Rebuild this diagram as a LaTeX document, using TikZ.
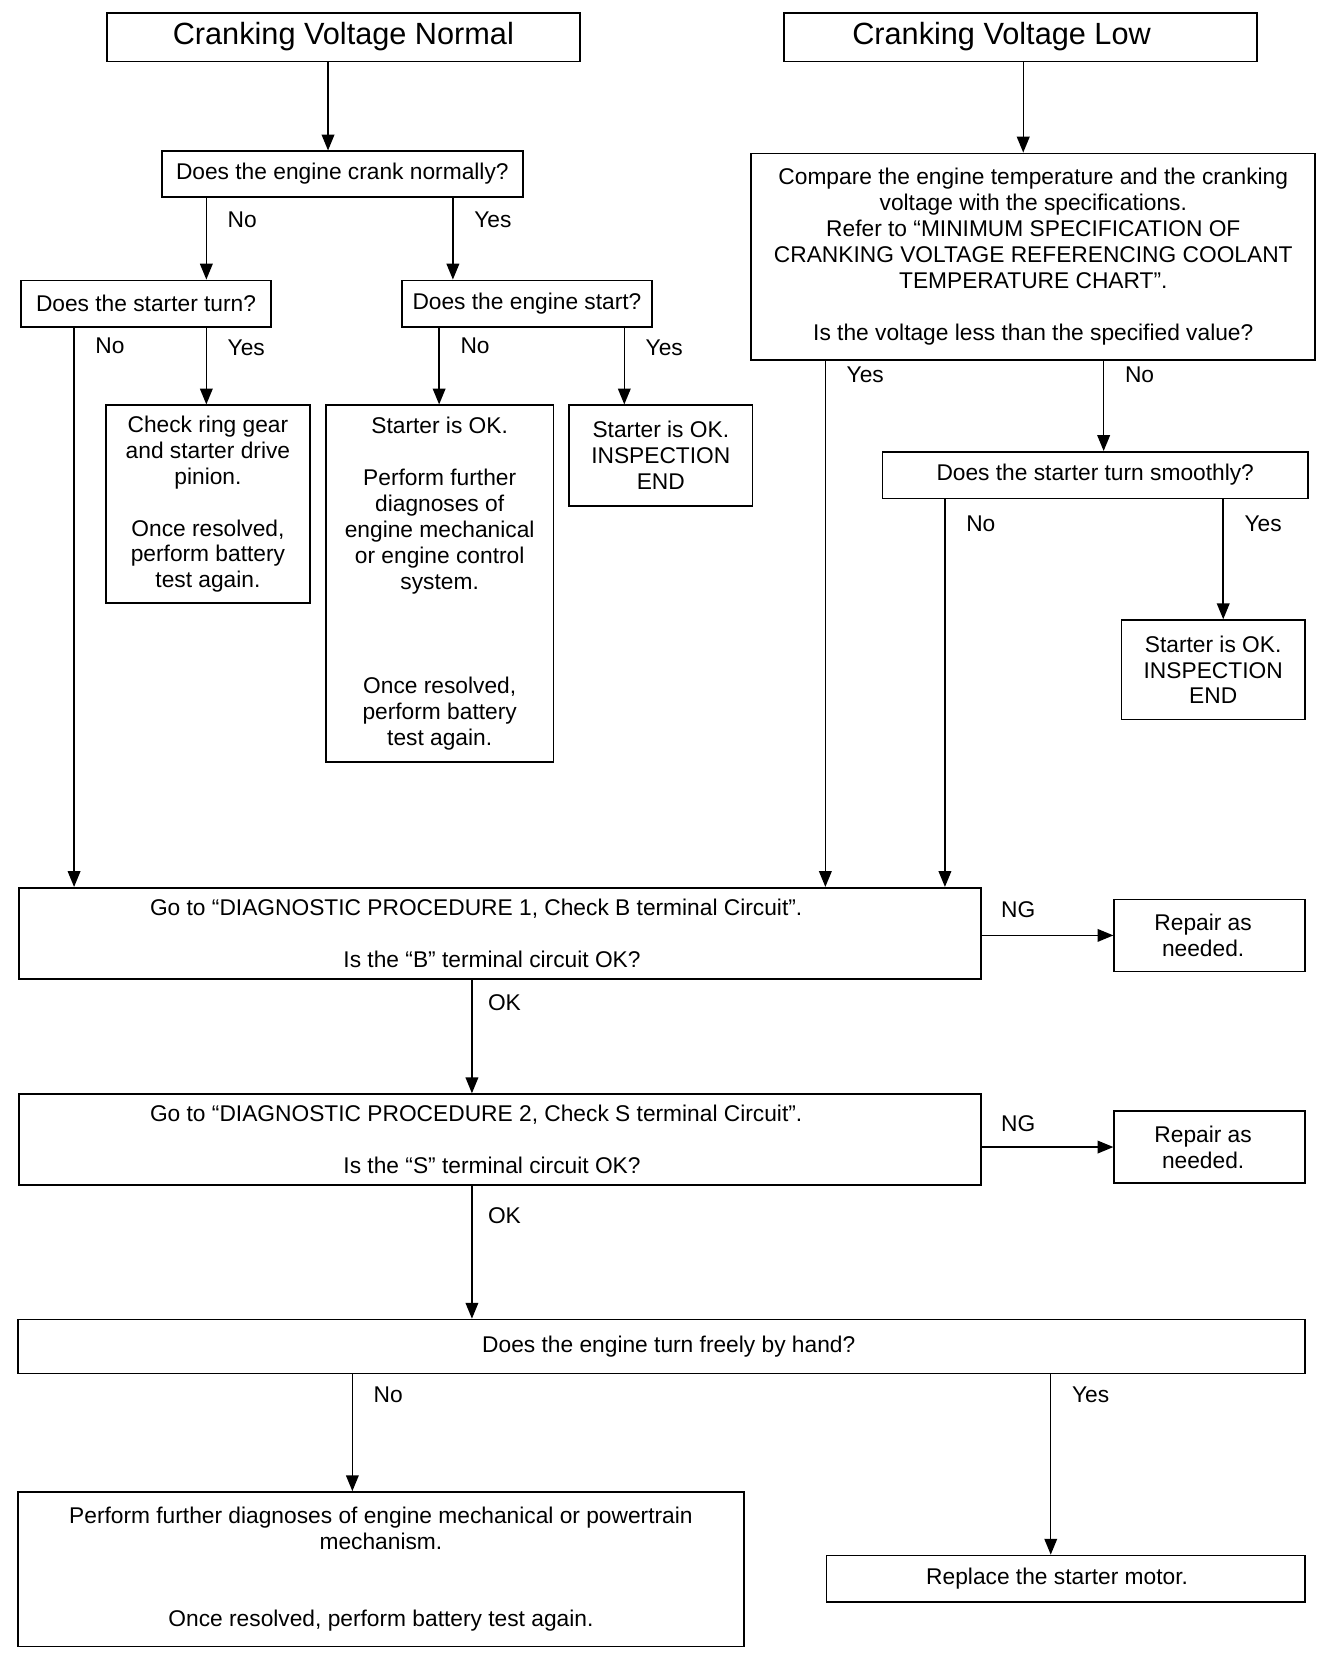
\documentclass[tikz,border=0pt]{standalone}
\usepackage{fontspec}
\setmainfont{Liberation Sans}
\usetikzlibrary{arrows.meta}
\newcommand{\bodyfont}{\fontsize{21.5}{24.5}\selectfont}
\newcommand{\titlefont}{\fontsize{29}{32}\selectfont}
\begin{document}
\begin{tikzpicture}[x=1pt,y=-1pt,
  box/.style={draw, line width=1.6pt, inner sep=0pt, align=center, font=\bodyfont},
  ttl/.style={box, font=\titlefont},
  lbl/.style={anchor=west, inner sep=0pt, font=\bodyfont},
  arr/.style={line width=1.4pt, -{Triangle[width=12pt,length=15pt]}},
  ln/.style={line width=1.4pt}]
\useasboundingbox (0,0) rectangle (1270,1565);

% x positions of vertical connectors
\coordinate (c70) at (70,0);
\coordinate (c195) at (195,0);
\coordinate (c310) at (310,0);
\coordinate (c333) at (333,0);
\coordinate (c415) at (415,0);
\coordinate (c428) at (428,0);
\coordinate (c446) at (446,0);
\coordinate (c590) at (590,0);
\coordinate (c780) at (780,0);
\coordinate (c893) at (893,0);
\coordinate (c967) at (967,0);
\coordinate (c993) at (993,0);
\coordinate (c1043) at (1043,0);
\coordinate (c1156) at (1156,0);

% nodes
\node[ttl, minimum width=447pt, minimum height=46pt] (t1) at (324.5,35) {\raisebox{-4pt}{Cranking Voltage Normal}};
\node[ttl, minimum width=447pt, minimum height=46pt] (t2) at (964.5,35) {\raisebox{-4pt}{Cranking Voltage Low}\hspace*{36pt}};
\node[box, minimum width=341pt, minimum height=43pt] (q1) at (323.5,164.5) {Does the engine crank normally?};
\node[box, minimum width=533pt, minimum height=195pt] (cmp) at (976.5,242.5) {Compare the engine temperature and the cranking\\ voltage with the specifications.\\ Refer to “MINIMUM SPECIFICATION OF\\ CRANKING VOLTAGE REFERENCING COOLANT\\ TEMPERATURE CHART”.\\[24.5pt] Is the voltage less than the specified value?};
\node[box, minimum width=236pt, minimum height=44pt] (st) at (138,287) {Does the starter turn?};
\node[box, minimum width=236pt, minimum height=44pt] (es) at (498,287) {Does the engine start?};
\node[box, minimum width=193pt, minimum height=187pt] (ring) at (196.5,476.5) {Check ring gear\\ and starter drive\\ pinion.\\[24.5pt] Once resolved,\\ perform battery\\ test again.};
\node[box, minimum width=215pt, minimum height=337pt] (sok1) at (415.5,551.5) {Starter is OK.\\[24.5pt] Perform further\\ diagnoses of\\ engine mechanical\\ or engine control\\ system.\\[73.5pt] Once resolved,\\ perform battery\\ test again.};
\node[box, minimum width=173pt, minimum height=95pt] (end1) at (624.5,430.5) {Starter is OK.\\ INSPECTION\\ END};
\node[box, minimum width=402pt, minimum height=44pt] (smooth) at (1035,449) {Does the starter turn smoothly?};
\node[box, minimum width=173pt, minimum height=94pt] (end2) at (1146.5,633) {Starter is OK.\\ INSPECTION\\ END};
\node[box, minimum width=909pt, minimum height=86pt] (dp1) at (472.5,882) {Go to “DIAGNOSTIC PROCEDURE 1, Check B terminal Circuit”.\hspace*{45pt}\\[24.5pt] Is the “B” terminal circuit OK?\hspace*{15pt}};
\node[box, minimum width=180pt, minimum height=68pt] (rep1) at (1143,884) {Repair as\hspace*{12pt}\\ needed.\hspace*{12pt}};
\node[box, minimum width=909pt, minimum height=86pt] (dp2) at (472.5,1077) {Go to “DIAGNOSTIC PROCEDURE 2, Check S terminal Circuit”.\hspace*{45pt}\\[24.5pt] Is the “S” terminal circuit OK?\hspace*{15pt}};
\node[box, minimum width=180pt, minimum height=68pt] (rep2) at (1143,1084) {Repair as\hspace*{12pt}\\ needed.\hspace*{12pt}};
\node[box, minimum width=1216pt, minimum height=51pt] (hand) at (625,1272.5) {\hspace*{14pt}Does the engine turn freely by hand?};
\node[box, minimum width=686pt, minimum height=146pt] (perf) at (360,1483) {Perform further diagnoses of engine mechanical or powertrain\\ mechanism.\\[49pt] Once resolved, perform battery test again.};
\node[box, minimum width=452pt, minimum height=44pt] (repl) at (1007,1492) {Replace the starter motor.\hspace*{16pt}};

% connectors
\draw[arr] (t1.south -| c310) -- (q1.north -| c310);
\draw[arr] (t2.south -| c967) -- (cmp.north -| c967);
\draw[arr] (q1.south -| c195) -- (st.north -| c195);
\draw[arr] (q1.south -| c428) -- (es.north -| c428);
\draw[arr] (st.south -| c70) -- (dp1.north -| c70);
\draw[arr] (st.south -| c195) -- (ring.north -| c195);
\draw[arr] (es.south -| c415) -- (sok1.north -| c415);
\draw[arr] (es.south -| c590) -- (end1.north -| c590);
\draw[arr] (cmp.south -| c780) -- (dp1.north -| c780);
\draw[arr] (cmp.south -| c1043) -- (smooth.north -| c1043);
\draw[arr] (smooth.south -| c893) -- (dp1.north -| c893);
\draw[arr] (smooth.south -| c1156) -- (end2.north -| c1156);
\draw[arr] (dp1.east |- rep1.west) -- (rep1.west);
\draw[arr] (dp1.south -| c446) -- (dp2.north -| c446);
\draw[arr] (dp2.east |- rep2.west) -- (rep2.west);
\draw[arr] (dp2.south -| c446) -- (hand.north -| c446);
\draw[arr] (hand.south -| c333) -- (perf.north -| c333);
\draw[arr] (hand.south -| c993) -- (repl.north -| c993);

% labels
\node[lbl] (l1) at (215,208) {No};
\node[lbl] (l2) at (448,208) {Yes};
\node[lbl] (l3) at (90,327) {No};
\node[lbl] (l4) at (215,329) {Yes};
\node[lbl] (l5) at (435,327) {No};
\node[lbl] (l6) at (610,329) {Yes};
\node[lbl] (l7) at (800,354) {Yes};
\node[lbl] (l8) at (1063,354) {No};
\node[lbl] (l9) at (913,495) {No};
\node[lbl] (l10) at (1176,495) {Yes};
\node[lbl] (l11) at (946,860) {NG};
\node[lbl] (l12) at (461,948) {OK};
\node[lbl] (l13) at (946,1062) {NG};
\node[lbl] (l14) at (461,1149) {OK};
\node[lbl] (l15) at (353,1318) {No};
\node[lbl] (l16) at (1013,1318) {Yes};
\end{tikzpicture}
\end{document}
